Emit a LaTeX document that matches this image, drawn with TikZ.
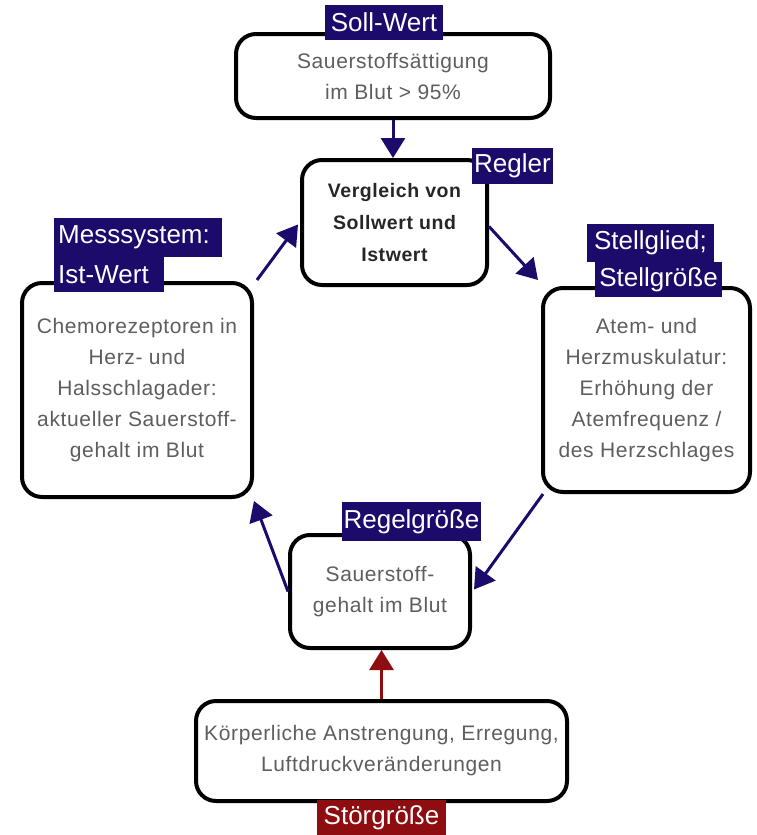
\documentclass[tikz,border=0pt]{standalone}
\usepackage{fontspec}
\setmainfont{Liberation Sans}
\newfontfamily\bodyfont[LetterSpace=3]{Liberation Sans}
\usetikzlibrary{arrows.meta,calc}
\definecolor{navy}{HTML}{1C0B6B}
\definecolor{darkred}{HTML}{8E0D10}
\definecolor{bodygray}{HTML}{5E5E5E}
\begin{document}
\begin{tikzpicture}[x=1pt,y=-1pt,
  box/.style={draw=black, line width=4pt, rounded corners=20pt, fill=white,
    align=center, text=bodygray, inner sep=0pt,
    font=\bodyfont\fontsize{21}{31}\selectfont},
  tag/.style={fill=navy, text=white, inner sep=0pt,
    font=\fontsize{26}{30}\selectfont},
  flow/.style={navy, line width=3pt, -{Triangle[length=20pt,width=24pt]}}]
\useasboundingbox (0,0) rectangle (757,835);

% control loop boxes
\node[box, minimum width=314pt, minimum height=84pt] (soll) at (393,76)
  {Sauerstoffsättigung\\im Blut > 95\%};
\node[box, minimum width=185pt, minimum height=125pt, text=black!85,
  font=\bodyfont\fontsize{19.5}{32}\selectfont\bfseries] (regler) at (394.5,222.5)
  {Vergleich von\\Sollwert und\\Istwert};
\node[box, minimum width=230pt, minimum height=214pt] (mess) at (137,390)
  {Chemorezeptoren in\\Herz- und\\Halsschlagader:\\aktueller Sauerstoff-\\gehalt im Blut};
\node[box, minimum width=207pt, minimum height=204pt] (stell) at (646.5,390)
  {Atem- und\\Herzmuskulatur:\\Erhöhung der\\Atemfrequenz /\\des Herzschlages};
\node[box, minimum width=180pt, minimum height=113pt] (regel) at (380,591.5)
  {Sauerstoff-\\gehalt im Blut};
\node[box, minimum width=371pt, minimum height=100pt] (stoer) at (381.5,751)
  {Körperliche Anstrengung, Erregung,\\Luftdruckveränderungen};

% role tags
\node[tag, minimum width=118pt, minimum height=35pt] (sollTag) at (384,22.5) {Soll-Wert};
\node[tag, minimum width=81pt, minimum height=36pt] (reglerTag) at (512.5,166) {Regler};
\node[tag, anchor=west, minimum width=168pt, minimum height=39pt, text width=160pt,
  align=left, inner xsep=4pt] (messTagA) at (54,237.5) {Messsystem:};
\node[tag, anchor=west, minimum width=110pt, minimum height=35pt, text width=102pt,
  align=left, inner xsep=4pt] (messTagB) at (54,274.5) {Ist-Wert};
\node[tag, minimum width=127pt, minimum height=38pt] (stellTagA) at (650.5,243) {Stellglied;};
\node[tag, minimum width=127pt, minimum height=35pt] (stellTagB) at (658.5,279.5) {Stellgröße};
\node[tag, minimum width=139pt, minimum height=39pt] (regelTag) at (411.5,521.5) {Regelgröße};
\node[tag, fill=darkred, minimum width=129pt, minimum height=36pt] (stoerTag) at (381.5,818) {Störgröße};

% signal flow
\draw[flow] (soll.south) -- (soll.south |- regler.north);
\draw[flow] ($(regler.east)+(0,4)$) -- ($(stell.north west)+(-3,-6)$);
\draw[flow] ($(stell.south west)+(2,0)$) -- ($(regel.east)+(2,-2)$);
\draw[flow] (regel.west) -- ($(mess.south east)+(0,2)$);
\draw[flow] ($(mess.north east)+(3,-1)$) -- ($(regler.west)+(-2,2)$);
\draw[flow, darkred] (stoer.north) -- (stoer.north |- regel.south);
\end{tikzpicture}
\end{document}
